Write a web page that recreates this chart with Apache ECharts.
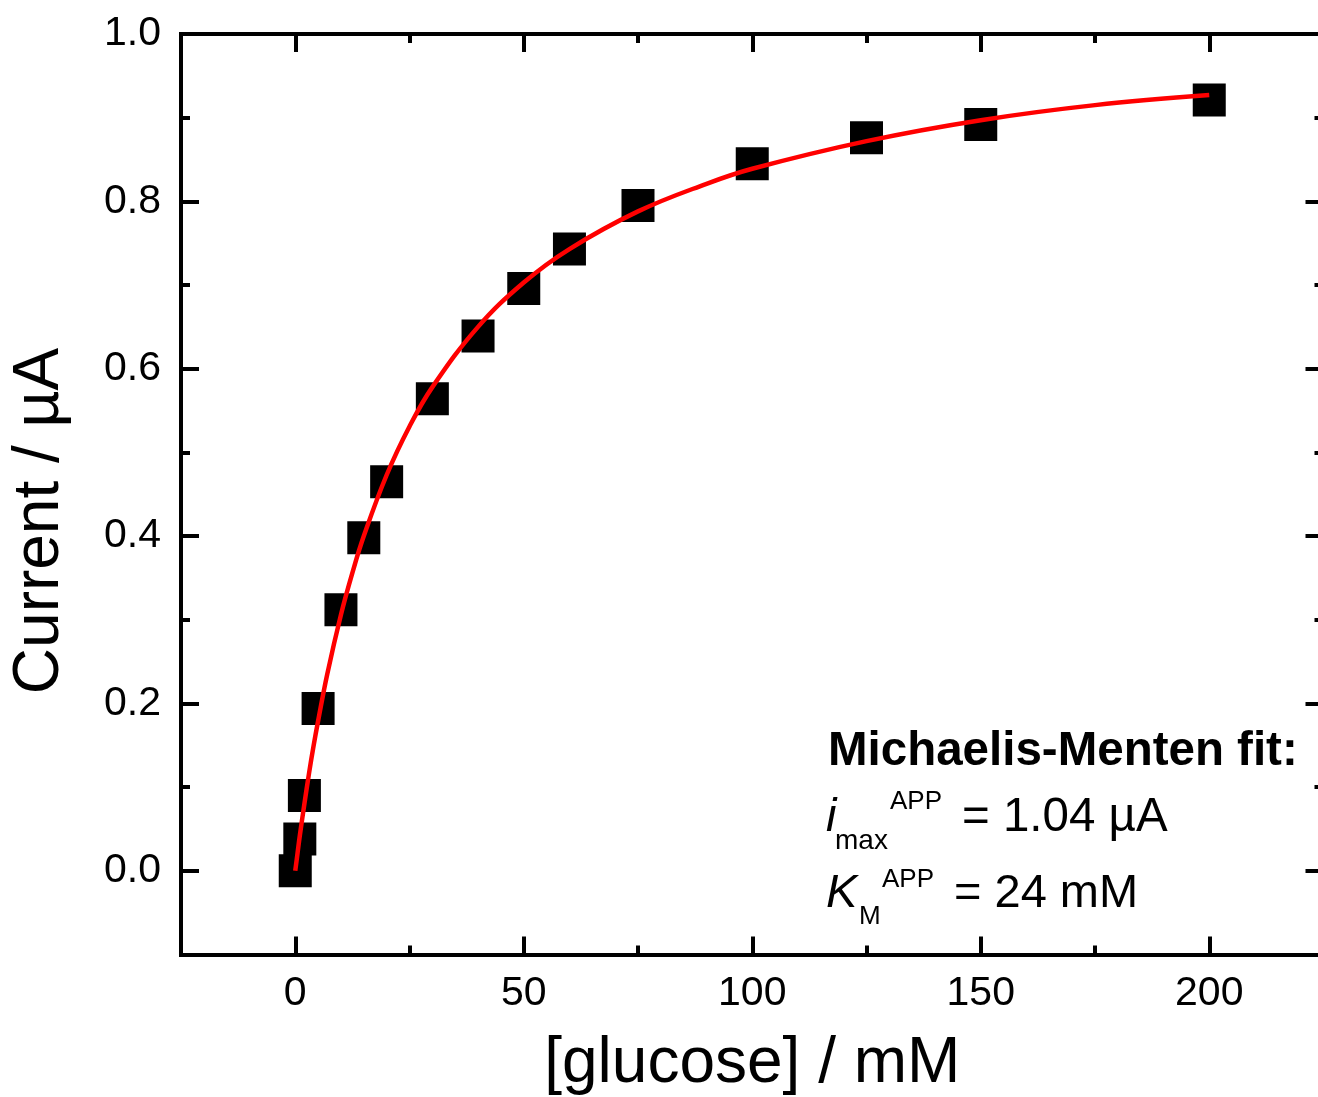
<!DOCTYPE html>
<html>
<head>
<meta charset="utf-8">
<script src="https://cdn.jsdelivr.net/npm/echarts@6/dist/echarts.min.js"></script>
<style>
html,body{margin:0;padding:0;background:#fff;}
#chart{width:1318px;height:1097px;}
</style>
</head>
<body>
<div id="chart"></div>
<script>
// measured data points
const glucose = [0, 1, 2, 5, 10, 15, 20, 30, 40, 50, 60, 75, 100, 125, 150, 200];
const current = [0.000, 0.038, 0.090, 0.194, 0.312, 0.398, 0.465, 0.564, 0.639, 0.696, 0.743, 0.795, 0.845, 0.876, 0.892, 0.921];
// fit curve
const fitX = [0, 0.5, 1, 2, 3, 4, 5, 7, 10, 12.5, 15, 20, 25, 30, 40, 50, 60, 75, 90, 100, 125, 150, 175, 200];
const fitY = [0.000, 0.021, 0.042, 0.080, 0.116, 0.149, 0.179, 0.235, 0.306, 0.356, 0.400, 0.473, 0.531, 0.578, 0.650, 0.703, 0.743, 0.788, 0.821, 0.839, 0.872, 0.897, 0.915, 0.927];
// ticks
const xMajor = [0, 50, 100, 150, 200];
const xMinor = [25, 75, 125, 175];
const yMajor = [0, 0.2, 0.4, 0.6, 0.8, 1.0];
const yMinor = [0.1, 0.3, 0.5, 0.7, 0.9];
const xTitle = '[glucose] / mM';
const yTitle = 'Current / \u00b5A';

const FONT = '"Liberation Sans", Arial, sans-serif';
const chart = echarts.init(document.getElementById('chart'), null, {renderer: 'canvas'});

const lineStyleAxis = {color: '#000', width: 4, cap: 'square'};
function xAx(pos, vals, len, showLine, labels) {
  return {
    type: 'value', position: pos, min: -25, max: 225,
    axisLine: {show: showLine, onZero: false, lineStyle: lineStyleAxis},
    axisTick: {show: true, inside: true, length: len, customValues: vals, lineStyle: {color: '#000', width: 4}},
    axisLabel: labels ? {show: true, customValues: vals, fontSize: 41, fontFamily: FONT, color: '#000', margin: 19} : {show: false},
    splitLine: {show: false}
  };
}
function yAx(pos, vals, len, showLine, labels) {
  return {
    type: 'value', position: pos, min: -0.1, max: 1.0,
    axisLine: {show: showLine, onZero: false, lineStyle: lineStyleAxis},
    axisTick: {show: true, inside: true, length: len, customValues: vals, lineStyle: {color: '#000', width: 4}},
    axisLabel: labels ? {show: true, customValues: vals, fontSize: 41, fontFamily: FONT, color: '#000', margin: 20,
      formatter: v => v.toFixed(1)} : {show: false},
    splitLine: {show: false}
  };
}

const xs = [xAx('bottom', xMajor, 18, true, true), xAx('bottom', xMinor, 9, false, false),
            xAx('top', xMajor, 18, true, false), xAx('top', xMinor, 9, false, false)];
xs[0].name = xTitle;
xs[0].nameLocation = 'middle';
xs[0].nameGap = 78;
xs[0].nameTextStyle = {fontSize: 64, fontFamily: FONT, color: '#000'};

const ys = [yAx('left', yMajor, 18, true, true), yAx('left', yMinor, 9, false, false),
            yAx('right', yMajor, 18, true, false), yAx('right', yMinor, 9, false, false)];

const option = {
  animation: false,
  backgroundColor: '#fff',
  grid: {left: 181, top: 34, width: 1142.5, height: 920.5, containLabel: false, outerBoundsMode: 'none'},
  xAxis: xs,
  yAxis: ys,
  series: [
    {
      type: 'scatter', xAxisIndex: 0, yAxisIndex: 0,
      data: glucose.map((g, i) => [g, current[i]]),
      symbol: 'rect', symbolSize: 33,
      itemStyle: {color: '#000', opacity: 1}, z: 2
    },
    {
      type: 'line', xAxisIndex: 0, yAxisIndex: 0,
      data: fitX.map((g, i) => [g, fitY[i]]),
      showSymbol: false, symbol: 'none', smooth: 0.4,
      lineStyle: {color: '#ff0000', width: 4.5}, z: 3
    }
  ],
  graphic: [
    {type: 'text', x: 40, y: 521, rotation: Math.PI / 2,
     style: {text: yTitle, font: '64px ' + FONT, fill: '#000', textAlign: 'center', textVerticalAlign: 'middle'}},
    {type: 'text', x: 828, y: 752,
     style: {text: 'Michaelis-Menten fit:', font: 'bold 47.5px ' + FONT, fill: '#000', textAlign: 'left', textVerticalAlign: 'middle'}},
    {type: 'text', x: 826, y: 818,
     style: {text: 'i', font: 'italic 47px ' + FONT, fill: '#000', textAlign: 'left', textVerticalAlign: 'middle'}},
    {type: 'text', x: 835, y: 841,
     style: {text: 'max', font: '28px ' + FONT, fill: '#000', textAlign: 'left', textVerticalAlign: 'middle'}},
    {type: 'text', x: 890, y: 802,
     style: {text: 'APP', font: '26px ' + FONT, fill: '#000', textAlign: 'left', textVerticalAlign: 'middle'}},
    {type: 'text', x: 962, y: 818,
     style: {text: '= 1.04 \u00b5A', font: '47.5px ' + FONT, fill: '#000', textAlign: 'left', textVerticalAlign: 'middle'}},
    {type: 'text', x: 826, y: 894,
     style: {text: 'K', font: 'italic 47px ' + FONT, fill: '#000', textAlign: 'left', textVerticalAlign: 'middle'}},
    {type: 'text', x: 859, y: 917,
     style: {text: 'M', font: '26px ' + FONT, fill: '#000', textAlign: 'left', textVerticalAlign: 'middle'}},
    {type: 'text', x: 882, y: 880,
     style: {text: 'APP', font: '26px ' + FONT, fill: '#000', textAlign: 'left', textVerticalAlign: 'middle'}},
    {type: 'text', x: 954, y: 894,
     style: {text: '= 24 mM', font: '47px ' + FONT, fill: '#000', textAlign: 'left', textVerticalAlign: 'middle'}}
  ]
};
chart.setOption(option);
</script>
</body>
</html>
